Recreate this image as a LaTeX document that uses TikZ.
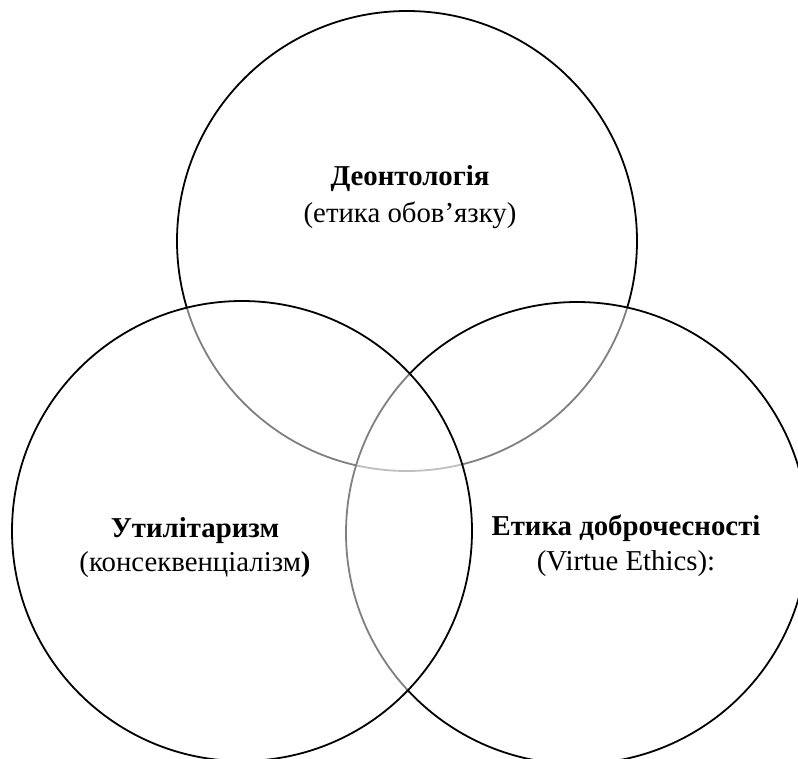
\documentclass[tikz,border=0pt]{standalone}
\usepackage{fontspec}
\setmainfont{Liberation Serif}
\begin{document}
\begin{tikzpicture}[x=1pt,y=-1pt,
  venn/.style={circle,draw=black,line width=1.8pt,fill=white,fill opacity=0.5,draw opacity=1,inner sep=0pt,minimum size=460pt},
  lab/.style={anchor=base,inner sep=0pt,font=\fontsize{28.8}{34}\selectfont}]
\useasboundingbox (0,0) rectangle (798,758);
\clip (0,0) rectangle (798,758);
\fill[white] (0,0) rectangle (798,758);
\node[venn] (T) at (407,241) {};
\node[venn,minimum size=462pt] (R) at (577,533) {};
\node[venn] (L) at (242,531) {};
\node[lab] (dt) at (410,185) {\textbf{Деонтологія}};
\node[lab] (ds) at (410,222) {(етика обов’язку)};
\node[lab] (ut) at (195,537) {\textbf{Утилітаризм}};
\node[lab] (us) at (195,571) {(консеквенціалізм\textbf{)}};
\node[lab] (et) at (626,535) {\textbf{Етика доброчесності}};
\node[lab] (es) at (626,570) {(Virtue Ethics):};
\end{tikzpicture}
\end{document}
